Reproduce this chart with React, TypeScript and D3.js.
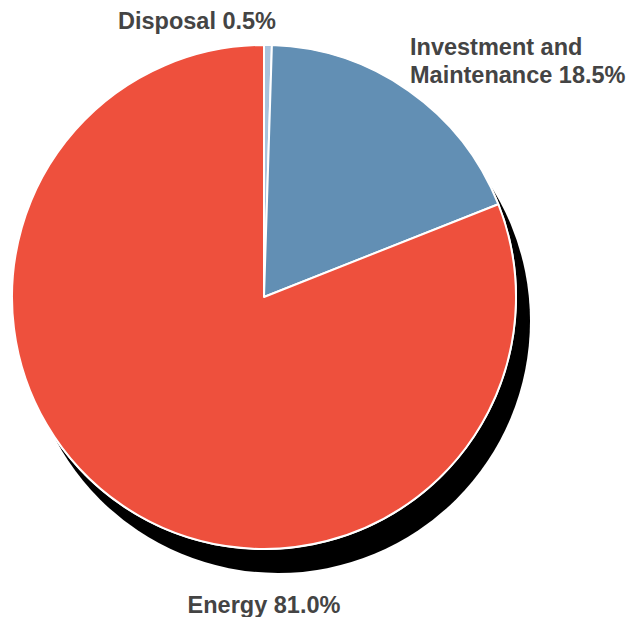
import React from "react";
import * as d3 from "d3";

const categories = ["Disposal", "Investment and Maintenance", "Energy"];
const values = [0.5, 18.5, 81.0];
const colors = ["#a9c3dd", "#628fb4", "#ee503d"];
const labelLines = [["Disposal 0.5%"], ["Investment and", "Maintenance 18.5%"], ["Energy 81.0%"]];

const W = 642;
const H = 617;
const cx = 264;
const cy = 297;
const R = 252;
const shadowDx = 14;
const shadowDy = 24;

// label layout (anchor positions)
const labelLayout = [
  { x: 197, y: 29, anchor: "middle" },
  { x: 410, y: 55, anchor: "start" },
  { x: 264, y: 613, anchor: "middle" },
];

export default function App() {
  const data = categories.map((c, i) => ({ c, v: values[i], i }));
  const pie = d3.pie<any>().sort(null).value((d) => d.v).startAngle(0).endAngle(2 * Math.PI);
  const arcs = pie(data);
  const arc = d3.arc<any>().innerRadius(0).outerRadius(R);
  return (
    <svg width={W} height={H} style={{ position: "absolute", left: 0, top: 0 }}>
      <circle cx={cx + shadowDx} cy={cy + shadowDy} r={R} fill="#000" />
      <circle cx={cx} cy={cy} r={R + 1} fill="#fff" />
      <g transform={`translate(${cx},${cy})`}>
        {arcs.map((a, i) => (
          <path key={i} d={arc(a) || ""} fill={colors[i]} stroke="#fff" strokeWidth={2} strokeLinejoin="round" />
        ))}
      </g>
      {labelLines.map((lines, i) => (
        <text
          key={i}
          x={labelLayout[i].x}
          y={labelLayout[i].y}
          textAnchor={labelLayout[i].anchor as any}
          fontFamily="'Liberation Sans', Arial, sans-serif"
          fontWeight="bold"
          fontSize={23.5}
          fill="#444"
        >
          {lines.map((l, j) => (
            <tspan key={j} x={labelLayout[i].x} dy={j === 0 ? 0 : 28}>
              {l}
            </tspan>
          ))}
        </text>
      ))}
    </svg>
  );
}
